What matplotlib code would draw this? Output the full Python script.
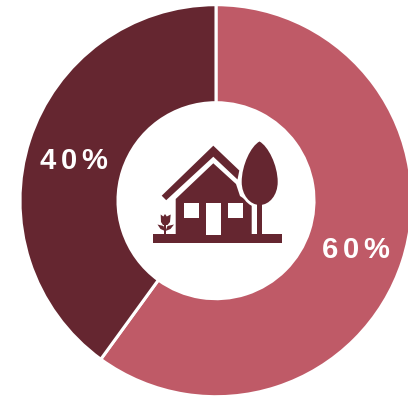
import matplotlib
matplotlib.use("Agg")
import matplotlib.pyplot as plt
from matplotlib.patches import PathPatch, Polygon, Rectangle
from matplotlib.path import Path

W, H = 408, 396
CX, CY, R_OUT, R_IN = 216, 200.7, 196, 98

categories = ["A", "B"]
shares = [60, 40]
slice_colors = ["#BF5A67", "#652630"]

ICON = "#652630"
WHITE = "white"
TRACKING = "\u200a\u200a"

plt.rcParams["font.family"] = ["Liberation Sans", "DejaVu Sans"]
fig = plt.figure(figsize=(W / 100, H / 100), dpi=100, facecolor="white")

# Donut axes, sized so data units equal the outer radius
ax = fig.add_axes([(CX - R_OUT) / W, 1 - (CY + R_OUT) / H, 2 * R_OUT / W, 2 * R_OUT / H])
ax.set_facecolor("none")


def spaced(pct):
    return TRACKING.join(f"{round(pct)}%")


wedges, _, pct_texts = ax.pie(
    shares,
    colors=slice_colors,
    startangle=90,
    counterclock=False,
    radius=1.0,
    wedgeprops=dict(width=1 - R_IN / R_OUT, edgecolor="white", linewidth=2.2),
    autopct=spaced,
    pctdistance=0.75,
    textprops=dict(color="white", fontsize=21, fontweight="bold"),
)
ax.set_xlim(-1, 1)
ax.set_ylim(-1, 1)

# Nudge the percentage labels inside their bands (offsets in pixels, y up)
label_offsets = [(0, -3.5), (-2, -5.5)]
for label, (dx, dy) in zip(pct_texts, label_offsets):
    x, y = label.get_position()
    label.set_position((x + dx / R_OUT, y + dy / R_OUT))

# House icon on a pixel-sized overlay
ov = fig.add_axes([0, 0, 1, 1], facecolor="none")
ov.set_xlim(0, W)
ov.set_ylim(H, 0)
ov.axis("off")


def poly(points, color=ICON, z=3):
    ov.add_patch(Polygon(points, closed=True, facecolor=color, edgecolor="none", zorder=z))


def rect(x0, y0, x1, y1, color=ICON, z=3):
    ov.add_patch(Rectangle((x0, y0), x1 - x0, y1 - y0, facecolor=color, edgecolor="none", zorder=z))


# Ground strip
rect(152.7, 234, 281.7, 242.7)

# Roof chevron
poly([(161.7, 195.7), (213.3, 145.7), (239.3, 170.5), (237.5, 179.5), (213.3, 156.7), (166.2, 200.2)])

# House body
poly([(213.3, 163.3), (236, 184), (240, 196), (251.7, 204), (251.7, 234), (175.7, 234), (175.7, 199)])

# White openings
rect(206, 203.3, 221, 234.5, WHITE, 4)
rect(184.3, 203.3, 199, 218, WHITE, 4)
rect(228, 203.3, 242.7, 218, WHITE, 4)

# Tree crown over a white halo, then the trunk
crown = Path(
    [(259.5, 141.5), (251, 146), (241.7, 165), (241.7, 182),
     (241.7, 195), (250, 205), (259.7, 205),
     (269.5, 205), (277.7, 195), (277.7, 182),
     (277.7, 165), (268, 146), (259.5, 141.5)],
    [Path.MOVETO, Path.CURVE4, Path.CURVE4, Path.CURVE4,
     Path.CURVE4, Path.CURVE4, Path.CURVE4,
     Path.CURVE4, Path.CURVE4, Path.CURVE4,
     Path.CURVE4, Path.CURVE4, Path.CURVE4],
)
ov.add_patch(PathPatch(crown, facecolor=WHITE, edgecolor=WHITE, linewidth=4, zorder=4))
ov.add_patch(PathPatch(crown, facecolor=ICON, edgecolor="none", zorder=5))
rect(251.7, 204, 257.3, 234, WHITE, 4)
rect(257.3, 204, 262.3, 234.5, ICON, 6)

# Tulip
rect(164, 224, 166.3, 234.5)
poly([(160.7, 214.5), (163.3, 216.5), (165, 214), (166.8, 216.5), (170.7, 214.5),
      (170, 222), (167.5, 225), (163, 225), (161, 222)])
poly([(157.5, 224.5), (163.5, 226), (165, 231), (160.5, 229)])
poly([(174, 224.5), (167.5, 226), (165.5, 231), (170.5, 229)])

fig.savefig("out.png", dpi=100, facecolor="white")
